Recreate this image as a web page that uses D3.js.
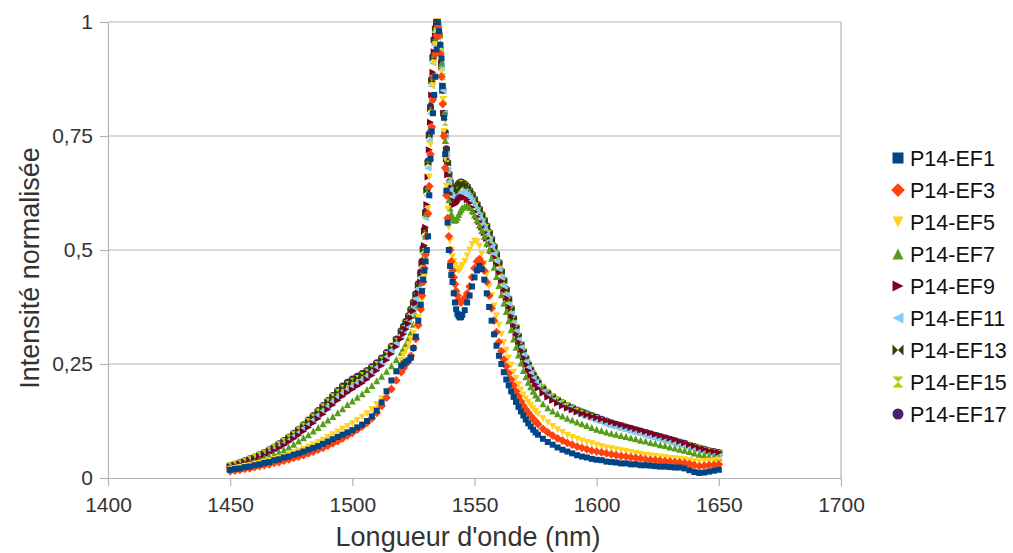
<!DOCTYPE html>
<html><head><meta charset="utf-8">
<script src="https://cdn.jsdelivr.net/npm/d3@7"></script>
<style>body{margin:0;background:#fff}svg{display:block}text{font-family:"Liberation Sans",Arial,sans-serif}</style>
</head><body><svg id="c" width="1013" height="553"></svg>
<script>
// ---------- DATA ----------
const wavelengths = [
1450,1452,1454,1456,1458,1460,1462,1464,1466,1468,1470,1472,1474,1476,1478,1480,1482,1484,1486,1488,1490,1492,1494,1496,1498,1500,1502,1504,1506,1508,1510,1512,1514,1516,1518,1520,
1521,1522,1523,1524,1525,1526,1527,1528,
1528.5,1529,1529.5,1530,1530.5,1531,1531.5,1532,1532.5,1533,1533.5,1534,1534.5,1535,1535.5,1536,1536.5,1537,1537.5,1538,1538.5,1539,1539.5,1540,1540.5,1541,1541.5,1542,1542.5,1543,1543.5,1544,1544.5,1545,
1546,1547,1548,1549,1550,1551,1552,1553,1554,1555,1556,1557,1558,1559,1560,1561,1562,1563,1564,1565,1566,1567,1568,1569,1570,1571,1572,1573,1574,1575,1576,
1578,1580,1582,1584,1586,1588,1590,1592,1594,1596,1598,1600,1602,1604,1606,1608,1610,1612,1614,1616,1618,1620,1622,1624,1626,1628,1630,1632,1634,1636,1638,1640,1642,1644,1646,1648,1650];

const seriesNames = ["P14-EF1","P14-EF3","P14-EF5","P14-EF7","P14-EF9","P14-EF11","P14-EF13","P14-EF15","P14-EF17"];
const seriesColors = ["#004586","#ff420e","#ffd320","#579d1c","#7e0021","#83caff","#314004","#aecf00","#4b1f6f"];
const seriesSymbols = ["square","diamond","triangleDown","triangleUp","triangleRight","triangleLeft","bowtie","hourglass","circle"];

const ef1 = [
.018,.020,.021,.024,.025,.028,.030,.033,.035,.039,.041,.045,.047,.051,.054,.058,.062,.066,.070,.075,.080,.085,.090,.095,.100,.105,.111,.117,.125,.135,.148,.166,.190,.214,.234,.246,
.251,.255,.258,.264,.285,.31,.345,.38,
.41,.435,.455,.475,.50,.53,.62,.70,.76,.80,.84,.88,.94,1,.98,.95,.92,.86,.79,.71,.63,.56,.50,.465,.445,.43,.405,.385,.37,.36,.355,.352,.353,.358,
.368,.385,.40,.42,.44,.455,.465,.458,.435,.405,.375,.345,.315,.29,.268,.25,.232,.216,.203,.19,.178,.167,.156,.146,.137,.128,.12,.113,.106,.10,.095,
.086,.079,.073,.067,.062,.058,.054,.050,.047,.045,.042,.040,.039,.036,.035,.034,.032,.032,.030,.030,.028,.028,.027,.026,.025,.025,.024,.023,.023,.021,.017,.013,.011,.012,.014,.016,.018];
const ef3 = [
.015,.016,.018,.020,.021,.024,.026,.028,.030,.033,.035,.038,.041,.044,.047,.050,.054,.058,.062,.066,.071,.076,.081,.087,.093,.099,.106,.113,.121,.131,.143,.158,.176,.195,.214,.232,
.241,.25,.259,.268,.285,.305,.335,.37,
.40,.43,.46,.49,.53,.58,.64,.71,.77,.83,.88,.93,.97,.99,.97,.93,.88,.82,.75,.68,.62,.57,.53,.50,.475,.455,.44,.425,.41,.40,.39,.386,.385,.388,
.395,.405,.42,.44,.46,.475,.48,.472,.455,.43,.40,.372,.345,.32,.298,.278,.26,.245,.23,.216,.203,.19,.179,.168,.158,.15,.143,.136,.13,.124,.118,
.108,.100,.093,.087,.082,.077,.073,.069,.066,.063,.060,.058,.056,.054,.052,.050,.048,.047,.045,.044,.043,.041,.040,.039,.038,.037,.036,.035,.034,.033,.031,.028,.026,.027,.028,.029,.030];
const ef5 = [
.019,.021,.023,.025,.027,.030,.032,.035,.038,.041,.044,.047,.051,.055,.059,.063,.068,.073,.078,.083,.089,.095,.101,.107,.113,.119,.126,.133,.141,.150,.161,.174,.19,.21,.234,.258,
.269,.28,.292,.304,.317,.333,.352,.375,
.39,.41,.44,.48,.53,.59,.66,.73,.80,.86,.91,.95,.98,1,.98,.94,.89,.83,.76,.70,.64,.59,.55,.52,.50,.485,.475,.466,.46,.457,.455,.456,.46,.466,
.475,.487,.50,.512,.52,.518,.508,.49,.47,.447,.42,.40,.377,.355,.335,.315,.297,.28,.263,.247,.232,.218,.205,.193,.182,.173,.166,.159,.152,.146,.14,
.13,.121,.113,.106,.100,.094,.089,.085,.081,.078,.075,.072,.069,.066,.064,.062,.060,.058,.056,.054,.052,.050,.049,.047,.046,.045,.043,.042,.041,.040,.038,.036,.035,.036,.037,.038,.039];
const ef7 = [
.022,.025,.027,.030,.033,.036,.040,.044,.048,.052,.057,.062,.068,.074,.081,.088,.095,.103,.111,.119,.127,.135,.143,.152,.161,.169,.177,.185,.194,.203,.213,.223,.234,.246,.26,.276,
.285,.295,.307,.32,.337,.357,.38,.41,
.43,.455,.49,.53,.58,.64,.70,.77,.83,.88,.93,.96,.99,1,.98,.95,.91,.86,.80,.74,.68,.635,.61,.592,.58,.572,.567,.565,.567,.572,.578,.584,.589,.593,
.596,.597,.593,.586,.577,.566,.555,.543,.53,.515,.50,.482,.462,.442,.422,.402,.383,.365,.345,.325,.305,.287,.27,.252,.236,.222,.21,.2,.19,.182,.175,
.163,.154,.147,.141,.136,.131,.127,.123,.119,.115,.111,.107,.104,.101,.098,.096,.093,.091,.088,.086,.083,.081,.078,.076,.073,.071,.068,.066,.063,.061,.058,.055,.052,.05,.048,.047,.045];
const ef9 = [
.024,.027,.030,.034,.037,.041,.045,.050,.055,.060,.066,.072,.079,.086,.094,.102,.111,.12,.13,.14,.15,.16,.17,.179,.187,.194,.201,.208,.216,.225,.235,.246,.258,.272,.288,.305,
.315,.326,.338,.351,.366,.383,.405,.43,
.45,.475,.51,.55,.60,.66,.72,.78,.84,.89,.935,.97,.99,1,.98,.95,.91,.86,.80,.75,.70,.665,.64,.622,.61,.603,.60,.60,.602,.606,.61,.613,.615,.616,
.615,.61,.603,.594,.584,.573,.562,.55,.538,.525,.512,.498,.483,.467,.45,.432,.413,.395,.375,.355,.335,.316,.298,.28,.264,.249,.236,.224,.214,.205,.197,
.186,.177,.17,.164,.158,.153,.149,.145,.141,.138,.135,.132,.129,.126,.123,.12,.117,.114,.111,.108,.105,.102,.099,.096,.093,.09,.087,.084,.08,.077,.073,.07,.066,.063,.06,.058,.056];
const ef11 = [
.025,.028,.031,.035,.039,.043,.047,.052,.058,.064,.070,.077,.084,.092,.100,.109,.118,.128,.138,.148,.158,.168,.178,.187,.195,.202,.209,.216,.224,.233,.243,.254,.266,.28,.296,.313,
.323,.334,.346,.36,.375,.393,.415,.44,
.46,.49,.53,.57,.62,.68,.74,.80,.86,.91,.95,.98,1,.995,.97,.94,.90,.85,.80,.75,.71,.675,.65,.632,.62,.613,.61,.61,.612,.616,.62,.624,.627,.628,
.627,.622,.615,.606,.596,.585,.573,.561,.549,.536,.523,.508,.492,.475,.457,.439,.42,.40,.38,.36,.34,.321,.303,.286,.27,.255,.242,.23,.219,.21,.202,
.189,.179,.171,.164,.158,.152,.147,.142,.137,.133,.129,.125,.121,.117,.114,.111,.108,.105,.102,.099,.096,.093,.09,.087,.084,.082,.079,.076,.073,.07,.067,.064,.061,.058,.055,.053,.051];
const ef13 = [
.026,.029,.032,.036,.040,.044,.049,.054,.060,.066,.072,.079,.087,.095,.104,.113,.123,.133,.144,.155,.166,.177,.188,.198,.207,.214,.220,.226,.233,.241,.250,.260,.272,.286,.302,.320,
.33,.341,.353,.367,.383,.40,.422,.447,
.47,.50,.54,.58,.63,.69,.75,.81,.87,.92,.96,.985,1,.99,.97,.94,.90,.85,.80,.755,.72,.69,.665,.647,.636,.63,.628,.63,.634,.639,.643,.646,.647,.646,
.643,.637,.629,.62,.61,.599,.588,.576,.564,.551,.537,.522,.506,.489,.471,.452,.432,.412,.391,.37,.349,.329,.31,.292,.276,.261,.248,.236,.225,.216,.208,
.195,.185,.177,.17,.164,.158,.153,.148,.144,.14,.136,.132,.128,.124,.12,.117,.114,.111,.108,.105,.102,.099,.096,.093,.09,.087,.084,.081,.078,.075,.071,.068,.065,.062,.059,.057,.055];
const ef15 = [
.027,.030,.033,.036,.041,.045,.050,.055,.061,.067,.073,.080,.088,.096,.105,.114,.124,.134,.145,.156,.167,.178,.188,.197,.205,.212,.218,.225,.232,.240,.249,.259,.271,.285,.300,.318,
.328,.339,.351,.365,.381,.398,.42,.445,
.468,.498,.535,.575,.625,.685,.745,.805,.865,.915,.955,.98,.995,1,.985,.96,.925,.88,.83,.78,.74,.70,.672,.652,.638,.63,.627,.628,.632,.637,.642,.645,.646,.645,
.642,.636,.628,.619,.609,.598,.587,.575,.563,.55,.536,.521,.505,.488,.47,.451,.431,.411,.39,.37,.35,.33,.311,.293,.277,.263,.25,.239,.229,.22,.212,
.199,.188,.179,.171,.164,.158,.152,.147,.142,.138,.134,.13,.126,.122,.118,.115,.112,.109,.106,.103,.1,.097,.094,.091,.088,.085,.082,.079,.076,.073,.07,.067,.064,.061,.058,.056,.054];
const ef17 = [
.027,.030,.034,.038,.042,.046,.051,.056,.062,.068,.075,.082,.090,.098,.107,.117,.127,.137,.148,.159,.170,.181,.192,.202,.210,.217,.223,.229,.236,.244,.253,.263,.275,.289,.305,.323,
.333,.344,.356,.37,.386,.404,.426,.452,
.475,.505,.545,.585,.635,.695,.755,.815,.875,.925,.962,.987,1,.99,.97,.94,.90,.85,.80,.758,.722,.692,.667,.65,.638,.632,.63,.632,.636,.641,.645,.648,.649,.648,
.645,.639,.631,.622,.612,.601,.59,.578,.566,.553,.539,.524,.508,.491,.473,.454,.434,.414,.393,.372,.351,.331,.312,.294,.278,.263,.25,.238,.227,.218,.21,
.197,.187,.178,.171,.165,.159,.154,.149,.145,.141,.137,.133,.129,.125,.121,.118,.115,.112,.109,.106,.103,.100,.097,.094,.091,.088,.085,.082,.079,.076,.072,.069,.066,.063,.060,.058,.056];

const seriesValues = [ef1,ef3,ef5,ef7,ef9,ef11,ef13,ef15,ef17];

const xTicks = [1400,1450,1500,1550,1600,1650,1700];
const yTicks = [0,0.25,0.5,0.75,1];
const yTickLabels = ["0","0,25","0,5","0,75","1"];
const xTitle = "Longueur d'onde (nm)";
const yTitle = "Intensité normalisée";

// ---------- DRAW ----------
const svg = d3.select("#c");
const X0=108, X1=841, Y0=478, Y1=22;
const x = d3.scaleLinear().domain([1400,1700]).range([X0,X1]);
const y = d3.scaleLinear().domain([0,1]).range([Y0,Y1]);
const grid = "#b3b3b3";

svg.append("g").selectAll("line").data(yTicks.slice(1)).join("line")
  .attr("x1",X0).attr("x2",X1).attr("y1",d=>y(d)).attr("y2",d=>y(d))
  .attr("stroke",grid).attr("stroke-width",1.2);
svg.append("line").attr("x1",X1).attr("x2",X1).attr("y1",Y1).attr("y2",Y0).attr("stroke",grid).attr("stroke-width",1.2);

const xAxis = svg.append("g").attr("transform",`translate(0,${Y0})`)
  .call(d3.axisBottom(x).tickValues(xTicks).tickSize(8).tickSizeOuter(0).tickPadding(11).tickFormat(d3.format("d")));
const yAxis = svg.append("g").attr("transform",`translate(${X0},0)`)
  .call(d3.axisLeft(y).tickValues(yTicks).tickSize(8).tickSizeOuter(0).tickPadding(7).tickFormat((d,i)=>yTickLabels[i]));
[xAxis,yAxis].forEach(g=>{
  g.select(".domain").attr("stroke",grid).attr("stroke-width",1.2);
  g.selectAll(".tick line").attr("stroke",grid).attr("stroke-width",1.2);
  g.selectAll(".tick text").attr("fill","#333").style("font-size","21px").style("font-family","'Liberation Sans',Arial,sans-serif");
});

svg.append("text").attr("x",468).attr("y",546).attr("text-anchor","middle")
  .style("font-size","27px").attr("fill","#333").text(xTitle);
svg.append("text").attr("transform","translate(39,268) rotate(-90)").attr("text-anchor","middle")
  .style("font-size","27px").attr("fill","#333").text(yTitle);

function sym(type, r){
  switch(type){
    case "square": return `M${-r},${-r}h${2*r}v${2*r}h${-2*r}Z`;
    case "diamond": {const q=r*1.25; return `M0,${-q}L${q},0L0,${q}L${-q},0Z`;}
    case "triangleDown": return `M${-r},${-r}L${r},${-r}L0,${r}Z`;
    case "triangleUp": return `M${-r},${r}L${r},${r}L0,${-r}Z`;
    case "triangleRight": return `M${-r},${-r}L${r},0L${-r},${r}Z`;
    case "triangleLeft": return `M${r},${-r}L${-r},0L${r},${r}Z`;
    case "bowtie": return `M${-r},${-r}L0,0L${-r},${r}ZM${r},${-r}L0,0L${r},${r}Z`;
    case "hourglass": return `M${-r},${-r}L${r},${-r}L0,0ZM${-r},${r}L${r},${r}L0,0Z`;
    default: return d3.symbol(d3.symbolCircle, Math.PI*r*r)();
  }
}

const plot = svg.append("g");
for (let s = seriesNames.length-1; s >= 0; s--){
  const pts = d3.zip(wavelengths, seriesValues[s]);
  plot.append("g").selectAll("path").data(pts).join("path")
    .attr("transform", d=>`translate(${x(d[0])},${y(d[1])})`)
    .attr("d", sym(seriesSymbols[s], seriesSymbols[s]==="square"?3:3.5))
    .attr("fill", seriesColors[s]);
}

const lg = svg.append("g");
seriesNames.forEach((n,i)=>{
  const cy = 158 + i*32;
  lg.append("path").attr("transform",`translate(898,${cy})`).attr("d",sym(seriesSymbols[i],5.5)).attr("fill",seriesColors[i]);
  lg.append("text").attr("x",910).attr("y",cy+7.5).style("font-size","21.5px").attr("fill","#111").text(n);
});
</script></body></html>
